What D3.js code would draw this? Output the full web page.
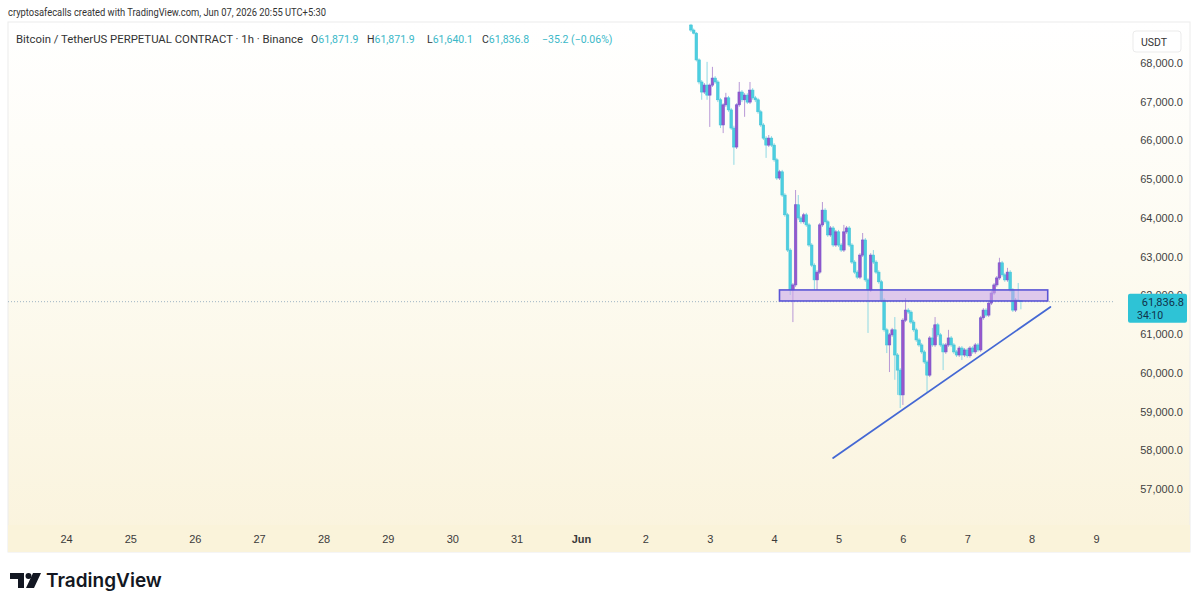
<!DOCTYPE html>
<html><head><meta charset="utf-8">
<script src="https://cdn.jsdelivr.net/npm/d3@7"></script>
<style>
html,body{margin:0;padding:0;background:#fff;}
svg{display:block;font-family:Roboto,"Noto Sans",sans-serif;}
</style></head><body>
<svg id="c" width="1200" height="608"></svg>
<script>
// ---------- DATA ----------
const startTime = "2026-06-02T17:00:00Z"; // first hourly candle
const opens = [68980,68850,68770,68080,67510,67250,67430,67170,67430,67610,67510,67050,66400,66920,67100,66790,66320,65830,66920,67250,
67050,67170,66990,67300,67100,67050,66740,66400,66060,65880,66060,65880,65500,65030,65190,64590,64080,63170,62140,62270,
64340,64000,63900,64080,63820,63300,62780,62400,62600,63820,64200,63900,63560,63740,63300,63640,63300,63170,63640,63740,
63300,62860,62600,62470,63040,63430,62400,62140,63040,62860,62600,62350,61880,61110,60720,60980,61110,60460,60070,59430,
61360,61620,61570,61310,61110,60850,60720,60540,60280,59940,60900,60720,61240,60980,60720,60540,60720,60900,60720,60540,
60460,60640,60460,60590,60440,60640,60540,60720,60590,61420,61620,61490,61800,62060,62270,62450,62840,62530,62400,62600,
62140,61620,61880,61871.9];
const highs = [69010,68890,68800,68120,67560,67480,68030,67470,67900,67660,67560,67100,66960,67230,67150,66840,66380,66960,67510,67300,
67220,67220,67510,67350,67150,67100,66790,66450,66110,66140,66110,65930,65550,65240,65240,64640,64130,63220,62320,64720,
64590,64050,64130,64130,63870,63350,62830,62650,63870,64410,64250,63950,63790,63790,63690,63690,63350,63820,63790,63790,
63350,62910,62650,63090,63610,63480,62450,63090,63170,62910,62650,62400,61930,61160,61030,61160,61440,60510,60120,61410,
61930,61670,61620,61360,61160,60900,60770,60590,60330,60950,61160,61440,61290,61030,60770,60770,61110,60950,60770,60590,
60690,60690,60640,60640,60690,60690,60770,60770,61470,61670,61670,61850,62110,62320,62500,62970,62890,62580,62710,62650,
62190,61930,62320,61871.9];
const lows = [68800,68740,68040,67450,67050,67200,67050,66350,67380,67460,66990,66320,66190,66870,66740,66270,65370,65780,66870,66990,
66610,66940,66940,67050,66990,66690,66350,66010,65550,65830,65830,65450,64980,64980,64540,64030,63120,62010,61310,62220,
63950,63850,63850,63770,63250,62730,62140,62140,62550,63770,63850,63510,63510,63250,63250,63250,63120,63120,63590,63250,
62810,62550,62420,62420,62990,62350,61030,62090,62810,62550,62300,61830,61060,60510,60020,60930,59820,59430,59090,59170,
61310,61520,61260,61060,60800,60670,60490,60230,59500,59890,60670,60670,60930,60670,60070,60490,60670,60670,60490,60410,
60410,60330,60410,60390,60390,60490,60490,60540,60540,61370,61440,61440,61750,62010,62220,62400,62480,62350,62350,62090,
61570,61570,61830,61640.1];
const closes = [68850,68770,68080,67510,67250,67430,67170,67430,67610,67510,67050,66400,66920,67100,66790,66320,65830,66920,67250,67050,
67170,66990,67300,67100,67050,66740,66400,66060,65880,66060,65880,65500,65030,65190,64590,64080,63170,62140,62270,64340,
64000,63900,64080,63820,63300,62780,62400,62600,63820,64200,63900,63560,63740,63300,63640,63300,63170,63640,63740,63300,
62860,62600,62470,63040,63430,62400,62140,63040,62860,62600,62350,61880,61110,60720,60980,61110,60460,60070,59430,61360,
61620,61570,61310,61110,60850,60720,60540,60280,59940,60900,60720,61240,60980,60720,60540,60720,60900,60720,60540,60460,
60640,60460,60590,60440,60640,60540,60720,60590,61420,61620,61490,61800,62060,62270,62450,62840,62530,62400,62600,62140,
61620,61880,61871.9,61836.8];

const priceTicks = [57000,58000,59000,60000,61000,62000,63000,64000,65000,66000,67000,68000];
const dayLabels = ["24","25","26","27","28","29","30","31","Jun","2","3","4","5","6","7","8","9"];
const dayStart = "2026-05-24T00:00:00Z";

const zoneTime = ["2026-06-04T02:00:00Z","2026-06-08T06:00:00Z"];
const zonePrice = [62140, 61855];
const trendTime = ["2026-06-04T22:00:00Z","2026-06-08T07:00:00Z"];
const trendPrice = [57800, 61700];

const lastPrice = 61836.8;
const countdown = "34:10";
const headerTop = "cryptosafecalls created with TradingView.com, Jun 07, 2026 20:55 UTC+5:30";
const symbolTitle = "Bitcoin / TetherUS PERPETUAL CONTRACT · 1h · Binance";
const ohlcLabels = ["O","H","L","C"];
const ohlcValues = ["61,871.9","61,871.9","61,640.1","61,836.8"];
const changeText = "−35.2 (−0.06%)";

// ---------- LAYOUT ----------
const svg = d3.select("#c");
const W = 1200, H = 608;
const panel = {x:8, y:22, w:1182, h:530};
const plotRight = 1114, axisTop = 525;

const defs = svg.append("defs");
const g = defs.append("linearGradient").attr("id","bg").attr("x1",0).attr("y1",0).attr("x2",0).attr("y2",1);
g.append("stop").attr("offset","0%").attr("stop-color","#ffffff");
g.append("stop").attr("offset","45%").attr("stop-color","#fdfbf1");
g.append("stop").attr("offset","100%").attr("stop-color","#faf3dc");
defs.append("clipPath").attr("id","plotclip").append("rect")
  .attr("x",panel.x).attr("y",panel.y).attr("width",plotRight-panel.x).attr("height",axisTop-panel.y);

svg.append("rect").attr("width",W).attr("height",H).attr("fill","#fff");
svg.append("rect").attr("x",panel.x).attr("y",panel.y).attr("width",panel.w).attr("height",panel.h)
  .attr("fill","url(#bg)").attr("stroke","#ececec").attr("stroke-width",1);

// scales
const x = d3.scaleUtc()
  .domain([new Date(dayStart), d3.utcDay.offset(new Date(dayStart), 16)])
  .range([66, 1096]);
const y = d3.scaleLinear().domain([57000, 68000]).range([489, 63]);

const t0 = new Date(startTime);
const candles = closes.map((c,i)=>({t:d3.utcHour.offset(t0,i), o:opens[i], h:highs[i], l:lows[i], c:c}));

const plot = svg.append("g").attr("clip-path","url(#plotclip)");

// last price dotted line
plot.append("line").attr("x1",panel.x).attr("x2",plotRight+20)
  .attr("y1",y(lastPrice)).attr("y2",y(lastPrice))
  .attr("stroke","#9fb4c4").attr("stroke-width",1).attr("stroke-dasharray","1,2");

const bw = 2.6;
const upFill="#9c55c8", upStroke="#6a5ad2", upWick="#b898d6";
const dnFill="#4ccfe0", dnStroke="#45c4d8", dnWick="#8fd9e4";

const cg = plot.append("g");
cg.selectAll("line.w").data(candles).join("line").attr("class","w")
  .attr("x1",d=>x(d.t)).attr("x2",d=>x(d.t))
  .attr("y1",d=>y(d.h)).attr("y2",d=>y(d.l))
  .attr("stroke",d=>d.c>=d.o?upWick:dnWick).attr("stroke-width",1);
cg.selectAll("rect.b").data(candles).join("rect").attr("class","b")
  .attr("x",d=>x(d.t)-bw/2).attr("width",bw)
  .attr("y",d=>y(Math.max(d.o,d.c)))
  .attr("height",d=>Math.max(1,Math.abs(y(d.o)-y(d.c))))
  .attr("fill",d=>d.c>=d.o?upFill:dnFill)
  .attr("stroke",d=>d.c>=d.o?upStroke:dnStroke).attr("stroke-width",0.6);

// zone rectangle
plot.append("rect")
  .attr("x",x(new Date(zoneTime[0]))).attr("width",x(new Date(zoneTime[1]))-x(new Date(zoneTime[0])))
  .attr("y",y(zonePrice[0])).attr("height",y(zonePrice[1])-y(zonePrice[0]))
  .attr("fill","#caa6ea").attr("fill-opacity",0.6)
  .attr("stroke","#5a55d6").attr("stroke-width",1.6);

// trend line
plot.append("line")
  .attr("x1",x(new Date(trendTime[0]))).attr("y1",y(trendPrice[0]))
  .attr("x2",x(new Date(trendTime[1]))).attr("y2",y(trendPrice[1]))
  .attr("stroke","#4468d4").attr("stroke-width",1.8).attr("stroke-linecap","round");

// time axis band
svg.append("rect").attr("x",panel.x).attr("y",axisTop).attr("width",panel.w).attr("height",panel.y+panel.h-axisTop)
  .attr("fill","#faf3da");

const dayTicks = d3.utcDay.range(new Date(dayStart), d3.utcDay.offset(new Date(dayStart),17));
const xAxis = d3.axisBottom(x).tickValues(dayTicks).tickSize(0).tickPadding(0)
  .tickFormat((d,i)=>dayLabels[i]);
const xa = svg.append("g").attr("transform",`translate(0,${axisTop+10})`).call(xAxis);
xa.select(".domain").remove();
xa.selectAll("text").attr("font-size",11).attr("fill","#3a3a3a").attr("dy","0.71em")
  .attr("font-weight",(d,i)=>dayLabels[i]==="Jun"?"700":"400");

// price axis
const ly = y(lastPrice);
const yAxis = d3.axisRight(y).tickValues(priceTicks).tickSize(0).tickPadding(0)
  .tickFormat(d=>d3.format(",.1f")(d));
const ya = svg.append("g").attr("transform",`translate(1183,0)`).call(yAxis);
ya.select(".domain").remove();
ya.selectAll("text").attr("text-anchor","end").attr("font-size",11).attr("fill","#3f3f3f");
// the tick under the last-price badge is partly hidden, as in the original (clip in tick-local coords)
ya.selectAll(".tick").filter(d=>Math.abs(y(d)-ly)<12).each(function(d){
  const id = "tc"+d;
  defs.append("clipPath").attr("id",id).append("rect")
    .attr("x",-100).attr("y",-20).attr("width",120).attr("height",20 + (ly-8) - y(d));
  d3.select(this).attr("clip-path",`url(#${id})`);
});

// USDT box
svg.append("rect").attr("x",1133).attr("y",31).attr("width",48).attr("height",21).attr("rx",3)
  .attr("fill","#fff").attr("stroke","#ebebeb");
svg.append("text").attr("x",1141).attr("y",46).attr("font-size",10.5).attr("fill","#333").text("USDT");

// last price label
svg.append("rect").attr("x",1128).attr("y",ly-8).attr("width",59).attr("height",29).attr("rx",2)
  .attr("fill","#2ec3d6");
svg.append("text").attr("x",1184).attr("y",ly+4).attr("text-anchor","end").attr("font-size",11)
  .attr("fill","#10324a").text(d3.format(",.1f")(lastPrice));
svg.append("text").attr("x",1137).attr("y",ly+17).attr("font-size",10.5)
  .attr("fill","#10324a").text(countdown);

// header
svg.append("text").attr("x",8).attr("y",16).attr("font-size",11).attr("fill","#333")
  .attr("textLength",318).attr("lengthAdjust","spacingAndGlyphs").text(headerTop);
svg.append("text").attr("x",16).attr("y",43).attr("font-size",10.5).attr("fill","#333")
  .attr("textLength",287).attr("lengthAdjust","spacingAndGlyphs").text(symbolTitle);
const ohlcX = [311,367,427,482];
ohlcLabels.forEach((l,i)=>{
  const t = svg.append("text").attr("x",ohlcX[i]).attr("y",43).attr("font-size",10.5);
  t.append("tspan").attr("fill","#333").text(l);
  t.append("tspan").attr("fill","#3ab8c8").text(ohlcValues[i]);
});
svg.append("text").attr("x",542).attr("y",43).attr("font-size",10.5).attr("fill","#3ab8c8").text(changeText);

// TradingView logo
const lg = svg.append("g").attr("fill","#131722");
lg.append("path").attr("d","M10,573 H24 V588 H18 V579 H10 Z");
lg.append("circle").attr("cx",28.5).attr("cy",576).attr("r",3);
lg.append("path").attr("d","M33,573 H41 L34,588 H26 Z");
svg.append("text").attr("x",46).attr("y",587).attr("font-size",19).attr("font-weight",600)
  .attr("fill","#131722").attr("font-family","Inter, Roboto, sans-serif").text("TradingView");
</script>
</body></html>
